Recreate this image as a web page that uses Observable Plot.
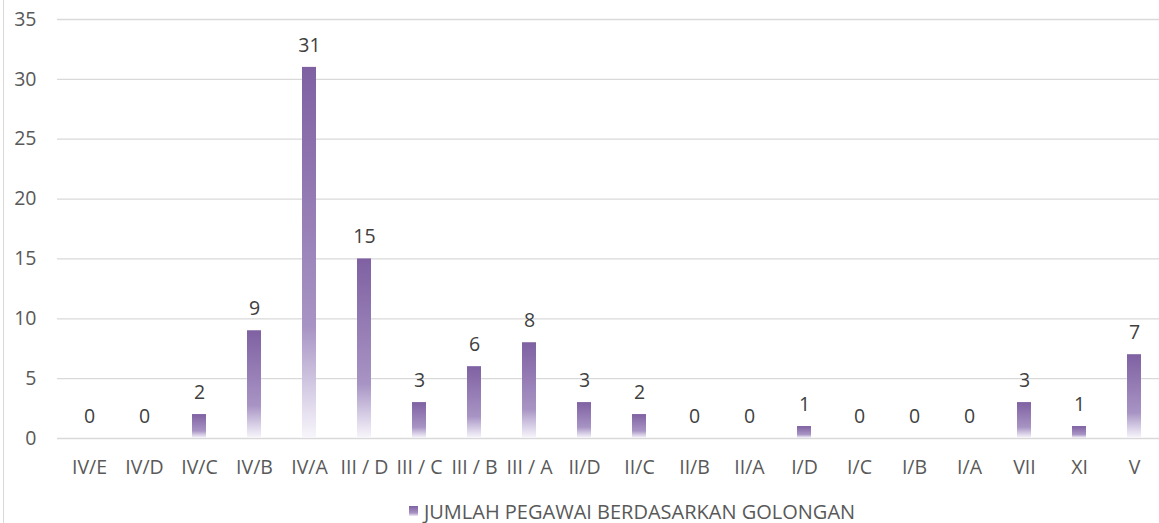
<!DOCTYPE html>
<html>
<head>
<meta charset="utf-8">
<script src="https://cdn.jsdelivr.net/npm/d3@7"></script>
<script src="https://cdn.jsdelivr.net/npm/@observablehq/plot@0.6"></script>
<style>
  html, body { margin: 0; padding: 0; background: #fff; overflow: hidden; }
  body { width: 1159px; height: 523px; position: relative; font-family: "Open Sans", sans-serif; }
  #border { position: absolute; left: 3px; top: 0; width: 1px; height: 523px; background: #d9d9d9; }
  #chart svg { display: block; }
  #chart svg text { font-size: 19.5px; }
  #legend { position: absolute; left: 0; top: 497px; width: 1264px; height: 28px; display: flex; justify-content: center; align-items: center; font-size: 20px; color: #595959; }
  #legend .sw { width: 9px; height: 10px; margin-right: 6px; background: linear-gradient(to bottom, #7f61a2 0%, #a894c4 70%, #efebf5 100%); }
</style>
</head>
<body>
<div id="border"></div>
<div id="chart"></div>
<div id="legend"><span class="sw"></span><span>JUMLAH PEGAWAI BERDASARKAN GOLONGAN</span></div>
<script>
const categories = ["IV/E","IV/D","IV/C","IV/B","IV/A","III / D","III / C","III / B","III / A","II/D","II/C","II/B","II/A","I/D","I/C","I/B","I/A","VII","XI","V"];
const values = [0,0,2,9,31,15,3,6,8,3,2,0,0,1,0,0,0,3,1,7];
const yTicks = [0,5,10,15,20,25,30,35];
const seriesName = "JUMLAH PEGAWAI BERDASARKAN GOLONGAN";

const data = categories.map((c, i) => ({cat: c, val: values[i]}));

const chart = Plot.plot({
  width: 1159,
  height: 495,
  marginTop: 19,
  marginBottom: 57,
  marginLeft: 57,
  marginRight: 0,
  style: {fontFamily: "'Open Sans', sans-serif", background: "#fff"},
  x: {domain: categories, range: [57.4, 1164.6], paddingInner: 0.75, paddingOuter: 0.375, label: null},
  y: {domain: [0, 35], label: null},
  marks: [
    Plot.ruleY(yTicks, {stroke: "#d9d9d9", strokeWidth: 1.3}),
    Plot.barY(data, {x: "cat", y: "val", fill: "url(#barGrad)"}),
    Plot.text(data, {x: "cat", y: "val", text: d => String(d.val), dy: -22, fill: "#404040"}),
    Plot.axisY({ticks: yTicks, tickSize: 0, tickPadding: 21, fill: "#595959", label: null}),
    Plot.axisX({tickSize: 0, tickPadding: 22, fill: "#595959", label: null})
  ]
});

const ns = "http://www.w3.org/2000/svg";
const defs = document.createElementNS(ns, "defs");
defs.innerHTML = `<linearGradient id="barGrad" x1="0" y1="0" x2="0" y2="1">
  <stop offset="0" stop-color="#7f61a2"/>
  <stop offset="0.7" stop-color="#a894c4"/>
  <stop offset="0.87" stop-color="#d6cde5"/>
  <stop offset="1" stop-color="#f8f6fb"/>
</linearGradient>`;
chart.insertBefore(defs, chart.firstChild);
document.getElementById("chart").appendChild(chart);
</script>
</body>
</html>
